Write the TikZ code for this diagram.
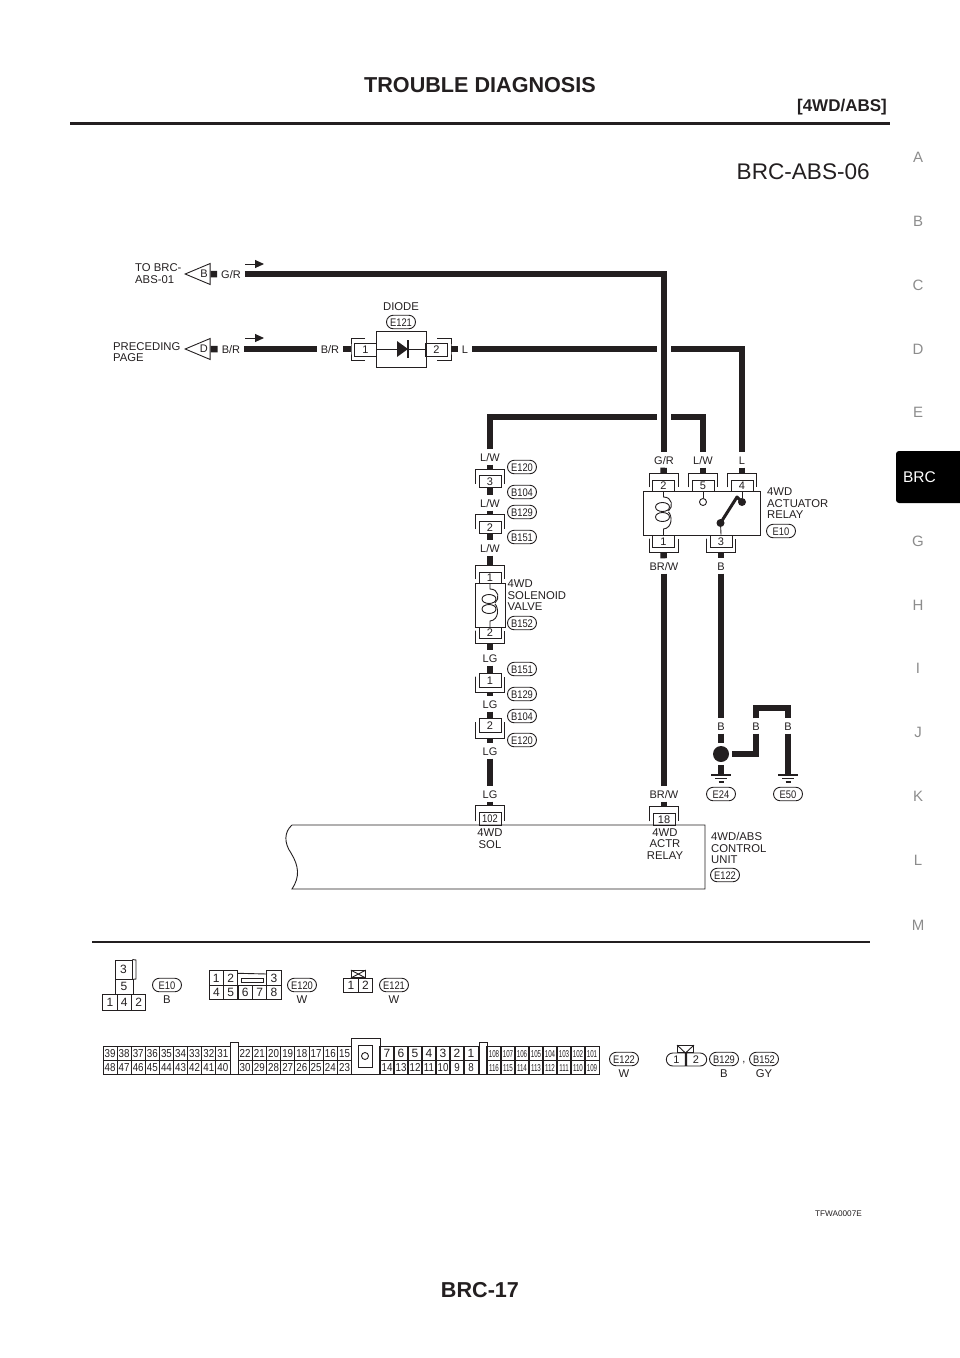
\documentclass[tikz,border=0pt]{standalone}
\usepackage{fontspec}
\setmainfont{Liberation Sans}
\newfontfamily\narrowface[FakeStretch=0.85]{Liberation Sans}
\newfontfamily\tinyface[FakeStretch=0.62]{Liberation Sans}
\usetikzlibrary{shapes.geometric,shapes.misc,arrows.meta}
\definecolor{ink}{HTML}{231F20}
\newcommand{\shelltop}[1]{%
  \coordinate (#1-s) at ([shift={(0,-6)}]#1.north);
  \draw[shell] ([shift={(-3,-4)}]#1.south west) |- (#1-s) -| ([shift={(3,-4)}]#1.south east);
}
\newcommand{\shellbot}[1]{%
  \coordinate (#1-e) at ([shift={(0,5)}]#1.south);
  \draw[shell] ([shift={(-3,4)}]#1.north west) |- (#1-e) -| ([shift={(3,4)}]#1.north east);
}
\tikzset{
  wire/.style={line width=6.5pt,ink},
  thinline/.style={line width=0.9pt,ink},
  shell/.style={line width=0.9pt,ink},
  wirelab/.style={font=\fontsize{11}{11}\selectfont,text=ink,inner xsep=4pt,inner ysep=0pt,
    minimum height=15pt,text height=8pt,text depth=0pt},
  pinbox/.style={draw=ink,line width=0.9pt,fill=white,inner sep=0pt,minimum width=22pt,
    font=\fontsize{11}{11}\selectfont,text=ink,text height=8pt,text depth=0pt},
  tag/.style={rounded rectangle,draw=ink,line width=0.9pt,minimum width=29pt,minimum height=13.5pt,
    inner sep=0pt,font=\narrowface\fontsize{11}{11}\selectfont,text=ink,text height=8pt,text depth=0pt},
  notes/.style={font=\fontsize{11.3}{11.5}\selectfont,text=ink,inner sep=0pt,align=left,anchor=west},
  midnotes/.style={notes,align=center,anchor=center},
  cell/.style={draw=ink,line width=0.9pt,inner sep=0pt,minimum width=14.2pt,minimum height=14pt,
    font=\narrowface\fontsize{11.5}{11.5}\selectfont,text=ink,text height=8.2pt,text depth=0pt},
  bigcell/.style={cell,font=\fontsize{12}{12}\selectfont},
  smallcell/.style={cell,font=\tinyface\fontsize{10}{10}\selectfont},
  flag/.style={isosceles triangle,shape border rotate=180,isosceles triangle stretches,draw=ink,
    line width=0.9pt,minimum height=25pt,minimum width=21pt,inner sep=0pt,anchor=apex,
    font=\fontsize{11}{11}\selectfont,text=ink},
  tabletter/.style={font=\fontsize{15}{15}\selectfont,text=black!45,inner sep=0pt},
  coilpic/.pic={
    \draw[thinline] (0,-22) -- (0,-16) .. controls (9,-16) and (10,-6) .. (5,-2);
    \draw[thinline] (-1,-6) ellipse (7 and 4.5);
    \draw[thinline] (-1,4) ellipse (7 and 4.5);
    \draw[thinline] (5,-1) .. controls (9,3) and (9,15) .. (0,16) -- (0,22);
  }
}
\begin{document}
\begin{tikzpicture}[x=1pt,y=-1pt]
\useasboundingbox (0,0) rectangle (960,1358);

\node[font=\bfseries\fontsize{21.6}{21.6}\selectfont,text=ink,inner sep=0pt] (title) at (480,85) {TROUBLE DIAGNOSIS};
\node[font=\bfseries\fontsize{17}{17}\selectfont,text=ink,inner sep=0pt,anchor=east] (section) at (887,107) {[4WD/ABS]};
\node[font=\fontsize{22.6}{22.6}\selectfont,text=ink,inner sep=0pt,anchor=east] (sheet) at (870,172) {BRC-ABS-06};
\node[font=\bfseries\fontsize{21.6}{21.6}\selectfont,text=ink,inner sep=0pt] (page) at (480,1290) {BRC-17};
\node[font=\fontsize{8.2}{8.2}\selectfont,text=ink,inner sep=0pt,anchor=east] (figno) at (862,1214) {TFWA0007E};
\draw[line width=3pt,ink] (70,123) -- (890,123);
\draw[line width=1.5pt,ink] (92,942) -- (870,942);

\foreach \l/\y in {A/157,B/221,C/285,D/349,E/412,G/541,H/605,I/668,J/732,K/796,L/860,M/925}
    \node[tabletter] (tab\l) at (918,\y) {\l};
\fill[black,rounded corners=3pt] (896,451) rectangle (970,503);
\node[font=\fontsize{15.5}{15.5}\selectfont,text=white,inner sep=0pt] (tabBRC) at (919.5,477) {BRC};

\foreach \n/\x/\y/\lab in {grA/231/274/{G/R}, brA/231/349/{B/R}, brB/330/349/{B/R}, lA/465/349/L,
                           lwA/490/457/{L/W}, lwB/490/503/{L/W}, lwC/490/548/{L/W},
                           lgA/490/658/LG, lgB/490/704/LG, lgC/490/751/LG, lgD/490/794/LG,
                           grB/664/460/{G/R}, lwD/703/460/{L/W}, lB/742/460/L,
                           brwA/664/566/{BR/W}, bA/721/566/B, brwB/664/794/{BR/W},
                           bB/721/726/B, bC/756/726/B, bD/788/726/B}
    \node[wirelab] (\n) at (\x,\y) {\lab};

\foreach \n/\x/\y/\h/\lab in {cA/490/481.5/12/3, cB/490/527/12/2, sv1/490/577.5/11/1, sv2/490/632.5/11/2,
                              lg1/490/680/14/1, lg2/490/725.5/14/2, p102/490/818.5/13/102, p18/664/819/12/18,
                              r2/663.5/485.5/11/2, r5/703/485.5/11/5, r4/742/485.5/11/4,
                              r1/663.5/541/12/1, r3/721/541/12/3, d1/365.5/349.5/13/1, d2/436.5/349.5/13/2}
    \node[pinbox,minimum height=\h pt] (\n) at (\x,\y) {\ifnum\pdfstrcmp{\lab}{102}=0 \narrowface\fi\lab};

\foreach \n in {cA,cB,sv1,p102,p18,r2,r5,r4}
    \shelltop{\n}
\foreach \n in {sv2,lg1,lg2,r1,r3}
    \shellbot{\n}
\coordinate (d1-w) at (351,349);
\coordinate (d2-w) at (451,349);
\draw[shell] (365,338) -| (d1-w) |- (365,360);
\draw[shell] (437,338) -| (d2-w) |- (437,360);

\node[draw=ink,line width=0.9pt,minimum width=50pt,minimum height=36pt,inner sep=0pt] (diode) at (401,349) {};
\node[draw=ink,line width=0.9pt,minimum width=30pt,minimum height=44pt,inner sep=0pt] (sol) at (490,605) {};
\node[draw=ink,line width=0.9pt,minimum width=117pt,minimum height=44pt,inner sep=0pt] (relay) at (701.5,513) {};
\draw[thinline] (d1.east) -- (d2.west);
\fill[ink] (397,341) -- (408,349) -- (397,357) -- cycle;
\draw[line width=1.2pt,ink] (408,340) -- (408,358);
\pic at (490,605) {coilpic};
\pic at (663.5,513) {coilpic};

\node[draw=ink,line width=0.9pt,circle,inner sep=0pt,minimum size=7pt] (r5c) at (703,502) {};
\node[fill=ink,circle,inner sep=0pt,minimum size=8pt] (r4c) at (742,502) {};
\node[fill=ink,circle,inner sep=0pt,minimum size=8pt] (r3c) at (720.5,523) {};
\draw[thinline] (r5.south) -- (r5c);
\draw[thinline] (r4.south) -- (r4c);
\draw[thinline] (r3.north) -- (r3c);
\coordinate (arm) at (737,497);
\draw[line width=3pt,ink,line join=round] (r3c.center) -- (arm) -- (r4c.center);

\node[flag] (triB) at (184,274) {B};
\node[flag] (triD) at (184,349) {D};
\node[notes] (toText) at (135,273.5) {TO BRC-\\ABS-01};
\node[notes] (prevText) at (113,352) {PRECEDING\\PAGE};
\node[midnotes] (diodeText) at (401,307) {DIODE};
\node[notes] (solText) at (507.5,595.5) {4WD\\SOLENOID\\VALVE};
\node[notes] (relayText) at (767,503.5) {4WD\\ACTUATOR\\RELAY};
\node[midnotes] (pinSol) at (490,838.5) {4WD\\SOL};
\node[midnotes] (pinActr) at (665,844) {4WD\\ACTR\\RELAY};
\node[notes] (unitText) at (711,848) {4WD/ABS\\CONTROL\\UNIT};

\foreach \n/\x/\y/\lab in {tagA/401/322/E121, tagB/522/467/E120, tagC/522/492/B104, tagD/522/512/B129,
                           tagE/522/537/B151, tagF/522/623/B152, tagG/522/669/B151, tagH/522/694/B129,
                           tagI/522/716/B104, tagJ/522/740/E120, tagK/781/531/E10, tagL/721/794/E24,
                           tagM/788/794/E50, tagN/725/875/E122, tagO/167/985/E10, tagP/302/985/E120,
                           tagQ/394/985/E121, tagR/624/1059/E122, tagS/724/1059/B129, tagT/764/1059/B152}
    \node[tag] (\n) at (\x,\y) {\lab};
\foreach \n/\x/\y/\lab in {coA/167/1000/B, coB/302/1000/W, coC/394/1000/W, coD/624/1074/W, coE/724/1074/B, coF/764/1074/GY}
    \node[font=\fontsize{11.3}{11.3}\selectfont,text=ink,inner sep=0pt] (\n) at (\x,\y) {\lab};
\node[font=\fontsize{11}{11}\selectfont,text=ink,inner sep=0pt] (comma) at (744,1063) {,};

\coordinate (gapA) at (657,349);
\coordinate (gapB) at (671,349);
\coordinate (gapC) at (657,417);
\coordinate (gapD) at (671,417);
\coordinate (topG) at (770,708);
\coordinate (gndA) at (721,775);
\coordinate (gndB) at (788,775);
\node[circle,fill=ink,inner sep=0pt,minimum size=16pt,outer sep=3pt] (dotA) at (721,754) {};

\foreach \i/\j in {triB/grA, triD/brA, brA/brB, brB/d1-w, d2-w/lA, lA/gapA, lwA/cA-s, cA/lwB, lwB/cB-s,
                   cB/lwC, lwC/sv1-s, sv2-e/lgA, lgA/lg1, lg1-e/lgB, lgB/lg2, lg2-e/lgC, lgC/lgD, lgD/p102-s,
                   grB/r2-s, lwD/r5-s, lB/r4-s, r1-e/brwA, r3-e/bA, brwA/brwB, bA/bB, brwB/p18-s,
                   bB/dotA, dotA/gndA, bD/gndB}
    \draw[wire] (\i) -- (\j);
\draw[wire] (grA) -| (grB);
\draw[wire] (gapB) -| (lB);
\draw[wire] (lwA) |- (gapC);
\draw[wire] (gapD) -| (lwD);
\draw[wire] (bC) |- (topG) -| (bD);
\draw[wire] (bC) |- (dotA);

\foreach \n in {gndA,gndB}{
    \draw[line width=1.2pt,ink] ([shift={(-10,0)}]\n) -- ([shift={(10,0)}]\n);
    \draw[line width=1.2pt,ink] ([shift={(-6,3.5)}]\n) -- ([shift={(6,3.5)}]\n);
    \draw[line width=1.2pt,ink] ([shift={(-2.5,7)}]\n) -- ([shift={(2.5,7)}]\n);
}

\foreach \n/\y in {arrA/264,arrB/338}{
    \coordinate (\n s) at (245,\y);
    \coordinate (\n e) at (264,\y);
    \draw[line width=1pt,ink,-{Triangle[length=9pt,width=8pt]}] (\n s) -- (\n e);
}

\draw[thinline] (292,825) -- (705,825) -- (705,889) -- (292,889)
    .. controls (300,877) and (299,866) .. (291,853)
    .. controls (284,843) and (284,832) .. (292,825);

\node[bigcell,minimum width=17pt,minimum height=19pt] (e10a) at (123.5,969.5) {3};
\draw[thinline] (e10a.north east) -- (136,960) -- (136,979) -- (e10a.south east);
\node[bigcell,minimum width=18pt,minimum height=15pt] (e10b) at (124,986.5) {5};
\foreach \t/\x in {1/110,4/124.3,2/138.6}
    \node[bigcell,minimum height=16pt] (e10c\t) at (\x,1002) {\t};

\foreach \t/\x in {1/216.2,2/230.6,3/274}
    \node[bigcell,minimum height=14.5pt] (e120t\t) at (\x,978) {\t};
\foreach \t [count=\i] in {4,5,6,7,8}
    \node[bigcell,minimum height=14.5pt] (e120b\t) at ({202+14.4*\i},992.5) {\t};
\draw[thinline] (e120t2.north east) ++(0,3) -- (267,974);
\node[draw=ink,line width=0.9pt,inner sep=0pt,minimum width=22pt,minimum height=4pt] (e120slot) at (252,980) {};

\foreach \t/\x in {1/351,2/365.5}
    \node[bigcell,minimum height=14pt] (e121\t) at (\x,985) {\t};
\node[draw=ink,line width=0.9pt,inner sep=0pt,minimum width=14pt,minimum height=7pt,anchor=south] (e121k) at (358.3,978) {};
\draw[thinline] (e121k.north west) -- (e121k.south east);
\draw[thinline] (e121k.north east) -- (e121k.south west);

\foreach \t [count=\i] in {39,38,...,31}
    \node[cell] (a\t) at ({103+14.1*(\i-0.5)},1053) {\t};
\foreach \t [count=\i] in {48,47,...,40}
    \node[cell] (a\t) at ({103+14.1*(\i-0.5)},1067) {\t};
\foreach \t [count=\i] in {22,21,...,15}
    \node[cell] (a\t) at ({238+14.2*(\i-0.5)},1053) {\t};
\foreach \t [count=\i] in {30,29,...,23}
    \node[cell] (a\t) at ({238+14.2*(\i-0.5)},1067) {\t};
\foreach \t [count=\i] in {7,6,...,1}
    \node[bigcell] (a\t) at ({380+14*(\i-0.5)},1053) {\t};
\foreach \t [count=\i] in {14,13,...,8}
    \node[cell] (a\t) at ({380+14*(\i-0.5)},1067) {\t};
\foreach \t [count=\i] in {108,107,...,101}
    \node[smallcell] (a\t) at ({487+14*(\i-0.5)},1053) {\t};
\foreach \t [count=\i] in {116,115,...,109}
    \node[smallcell] (a\t) at ({487+14*(\i-0.5)},1067) {\t};
\node[draw=ink,line width=0.9pt,inner sep=0pt,minimum width=8pt,minimum height=32pt] (keyA) at (234,1058) {};
\node[draw=ink,line width=0.9pt,inner sep=0pt,minimum width=8pt,minimum height=32pt] (keyB) at (483,1058) {};
\node[draw=ink,line width=0.9pt,inner sep=0pt,minimum width=29pt,minimum height=36pt] (keyC) at (365.5,1056) {};
\node[draw=ink,line width=0.9pt,inner sep=0pt,minimum width=14pt,minimum height=22pt] (keyD) at (365,1056) {};
\node[draw=ink,line width=0.9pt,circle,inner sep=0pt,minimum size=7pt] (keyE) at (365,1056) {};

\node[rounded rectangle,rounded rectangle right arc=none,draw=ink,line width=0.9pt,inner sep=0pt,
    minimum width=19pt,minimum height=13pt,font=\fontsize{11}{11}\selectfont,text=ink,text height=8pt,text depth=0pt] (b1) at (676.5,1059.5) {1};
\node[rounded rectangle,rounded rectangle left arc=none,draw=ink,line width=0.9pt,inner sep=0pt,
    minimum width=20pt,minimum height=13pt,font=\fontsize{11}{11}\selectfont,text=ink,text height=8pt,text depth=0pt] (b2) at (696,1059.5) {2};
\node[draw=ink,line width=0.9pt,inner sep=0pt,minimum width=16pt,minimum height=7pt,anchor=south] (bk) at (685.5,1053) {};
\draw[thinline] (bk.north west) -- (bk.south);
\draw[thinline] (bk.north east) -- (bk.south);
\end{tikzpicture}
\end{document}
